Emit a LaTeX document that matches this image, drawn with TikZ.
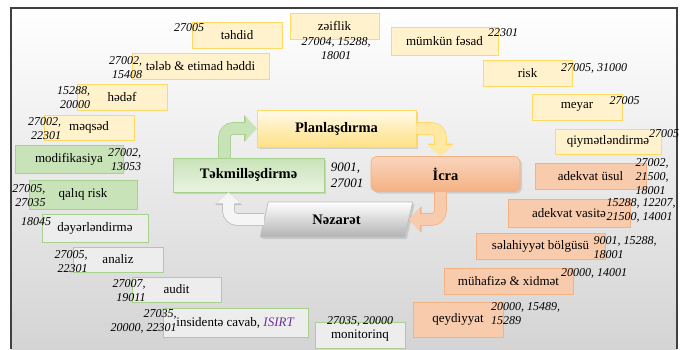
\documentclass[tikz,border=0pt]{standalone}
\usepackage{fontspec}
\setmainfont{Liberation Serif}
\usepackage{tikz}
\usetikzlibrary{arrows.meta,positioning,shapes.geometric,shadows}
\definecolor{boxY}{HTML}{FFF2CC}
\definecolor{lineY}{HTML}{FFD966}
\definecolor{boxG}{HTML}{C9E3B8}
\definecolor{lineG}{HTML}{A9D18E}
\definecolor{boxW}{HTML}{EDEDED}
\definecolor{boxO}{HTML}{F8CBAD}
\definecolor{lineO}{HTML}{F4B183}
\definecolor{frameC}{HTML}{404040}
\definecolor{bgBottom}{HTML}{D4D4D4}
\definecolor{isirtC}{HTML}{7030A0}

\begin{document}
\begin{tikzpicture}[x=1pt,y=-1pt,
  box/.style={draw,line width=0.8pt,inner sep=0pt,font=\fontsize{13}{15}\selectfont},
  num/.style={inner sep=0pt,font=\fontsize{12}{14}\selectfont\itshape},
  core/.style={draw,line width=0.8pt,inner sep=0pt,font=\fontsize{14.5}{17}\selectfont\bfseries,
    drop shadow={opacity=0.25,shadow xshift=2pt,shadow yshift=-2pt}},
  cyc/.style={line width=11pt,rounded corners=9pt,-{Triangle[length=11pt,width=23pt]}},
  outl/.style={preaction={draw=#1,line width=12.6pt,-{Triangle[length=12.5pt,width=26pt]}}}]
  \useasboundingbox (0,0) rectangle (685,349);
  % background and frame
  \shade[top color=white,bottom color=bgBottom] (11,8) rectangle (677,349);
  \draw[frameC,line width=1.2pt] (11,349) |- (677,8) -- (677,349);

  % yellow terms
  \foreach \x/\y/\w/\h/\t [count=\i] in {237/35/90/26/təhdid, 334.5/26/89/26/zəiflik,
      444.5/41/107/28/mümkün fəsad, 527.5/73/89/26/risk, 577/107/90/26/meyar,
      608/141.5/106/25/qiymətləndirmə, 200.5/66/137/26/tələb \& etimad həddi,
      122/97/90/26/hədəf, 89/127.5/90/25/məqsəd} {
    \node[box,draw=lineY,fill=boxY,minimum width=\w*1pt,minimum height=\h*1pt] (y\i) at (\x,\y) {\t};
  }
  % green terms
  \foreach \x/\y/\w/\h/\t [count=\i] in {69/159/108/28/modifikasiya, 83/194.5/108/29/qalıq risk} {
    \node[box,draw=lineG,fill=boxG,minimum width=\w*1pt,minimum height=\h*1pt] (g\i) at (\x,\y) {\t};
  }
  % gray terms
  \foreach \x/\y/\w/\h/\t [count=\i] in {95/228/106/28/dəyərləndirmə, 118/259.5/90/25/analiz,
      176.5/289.5/89/25/audit, 235.5/322.5/145/29/{insidentə cavab, \textcolor{isirtC}{\textit{ISIRT}}},
      360/335.5/90/26/monitorinq} {
    \node[box,draw=lineG,fill=boxW,minimum width=\w*1pt,minimum height=\h*1pt] (w\i) at (\x,\y) {\t};
  }
  % orange terms
  \foreach \x/\y/\w/\h/\t [count=\i] in {590.5/176/111/26/adekvat üsul, 569/213/122/28/adekvat vasitə,
      540.5/246/129/26/səlahiyyət bölgüsü, 508.5/281/129/26/mühafizə \& xidmət,
      458/319.5/90/35/qeydiyyat} {
    \node[box,draw=lineO,fill=boxO,minimum width=\w*1pt,minimum height=\h*1pt] (o\i) at (\x,\y) {\t};
  }

  % standard numbers
  \foreach \x/\y/\al/\t [count=\i] in {189/28/center/27005, 336/49/center/{27004, 15288,\\18001},
      503/33/center/22301, 594/68/center/{27005, 31000}, 624.5/101/center/27005,
      664/134/center/27005, 125.5/67.5/right/{27002,\\15408}, 73.5/98/right/{15288,\\20000},
      44.5/129/right/{27002,\\22301}, 124.5/160/right/{27002,\\13053}, 29/195.5/right/{27005,\\27035},
      36/222/center/18045, 71/262/right/{27005,\\22301}, 129/291/right/{27007,\\19011},
      143.5/321.5/right/{27035,\\20000, 22301}, 360/321/center/{27035, 20000},
      652/177/left/{27002,\\21500,\\18001}, 641/210/left/{15288, 12207,\\21500, 14001},
      625/248/left/{9001, 15288,\\18001}, 594/273/center/{20000, 14001},
      525.5/314/left/{20000, 15489,\\15289}} {
    \node[num,align=\al] (n\i) at (\x,\y) {\t};
  }

  % cycle
  \node[core,draw=lineY,top color=white!60!boxY,bottom color=lineY!80,
        minimum width=159pt,minimum height=37pt] (plan) at (336.5,128.5) {Planlaşdırma};
  \node[core,draw=lineG,top color=boxG,bottom color=boxG!40,
        minimum width=151pt,minimum height=34pt] (tek) at (248.5,175) {Təkmilləşdirmə};
  \node[core,draw=lineO,rounded corners=6pt,top color=boxO!80,bottom color=lineO,
        minimum width=149pt,minimum height=35pt] (icra) at (445.5,174) {İcra};
  \node[core,draw=gray!50,trapezium,trapezium left angle=74,trapezium right angle=106,
        trapezium stretches=true,top color=white,bottom color=gray!60,
        minimum width=153pt,minimum height=35pt] (nez) at (336.5,219.5) {Nəzarət};
  \node[num,align=left,font=\fontsize{13}{16}\selectfont\itshape] (iso) at (347,175) {9001,\\27001};

  \draw[cyc,draw=boxG,outl=lineG] ([xshift=-24pt]tek.north) |- (plan.west);
  \draw[cyc,draw=boxY!60!lineY,outl=lineY] (plan.east) -| ([xshift=-5pt]icra.north);
  \draw[cyc,draw=boxO,outl=lineO] ([xshift=-5pt]icra.south) |- (nez.east);
  \draw[cyc,draw=gray!8,outl=gray!50] (nez.west) -| ([xshift=-20pt]tek.south);
\end{tikzpicture}
\end{document}
